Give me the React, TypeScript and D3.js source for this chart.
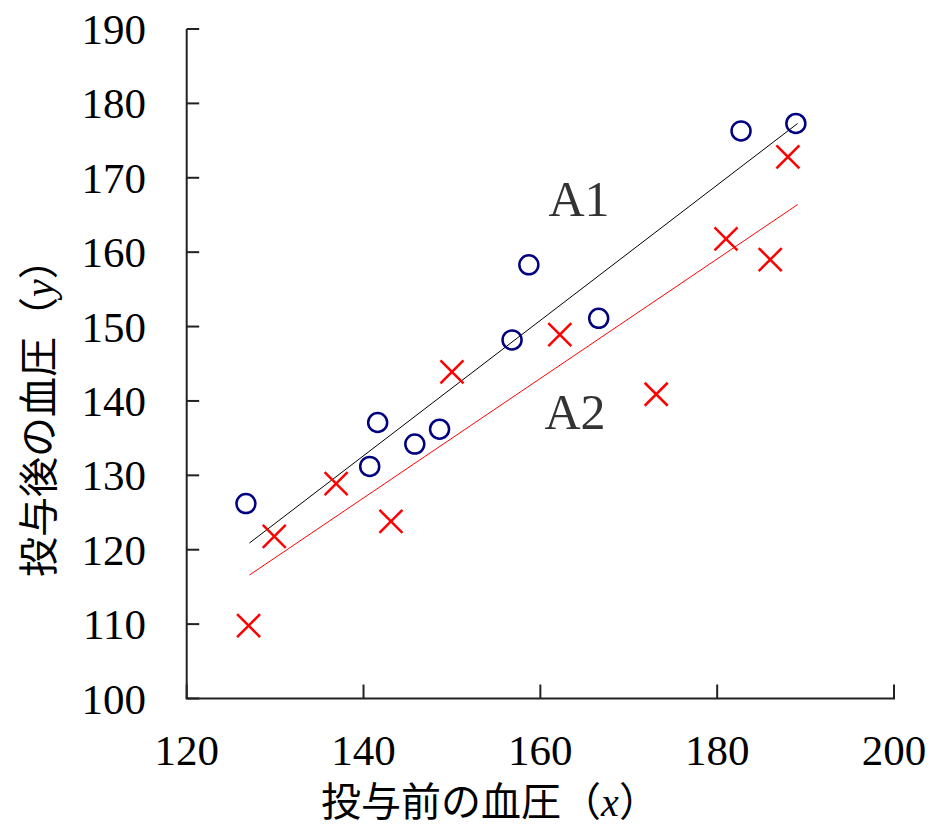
import React from "react";
import * as d3 from "d3";

const xTicks = [120, 140, 160, 180, 200];
const yTicks = [100, 110, 120, 130, 140, 150, 160, 170, 180, 190];

const a1X = [126.7, 140.7, 141.6, 145.8, 148.6, 156.8, 158.7, 166.6, 182.7, 188.9];
const a1Y = [126.2, 131.2, 137.1, 134.2, 136.2, 148.2, 158.3, 151.1, 176.3, 177.3];

const a2X = [127.0, 129.9, 136.9, 143.1, 150.0, 162.2, 173.1, 181.0, 186.0, 188.0];
const a2Y = [109.8, 121.8, 128.9, 123.8, 143.9, 148.9, 140.9, 161.8, 159.0, 172.8];

const fitA1X = [127.1, 189.1];
const fitA1Y = [120.9, 177.3];
const fitA2X = [127.1, 189.1];
const fitA2Y = [116.6, 166.4];

const W = 934;
const H = 828;

export default function App() {
  const x = d3.scaleLinear().domain([120, 200]).range([186.7, 894]);
  const y = d3.scaleLinear().domain([100, 190]).range([698.5, 29]);
  const line = d3.line<[number, number]>().x((d) => x(d[0])).y((d) => y(d[1]));
  const fit1: [number, number][] = fitA1X.map((v, i) => [v, fitA1Y[i]]);
  const fit2: [number, number][] = fitA2X.map((v, i) => [v, fitA2Y[i]]);
  const serif = "'Liberation Serif', 'DejaVu Serif', serif";
  const cjk = "'Noto Sans CJK JP', 'Noto Sans', sans-serif";
  const axisColor = "#222";
  const cs = 11.5;
  return (
    <svg width={W} height={H} style={{ position: "absolute", left: 0, top: 0, background: "#fff" }}>
      <rect x={0} y={0} width={W} height={H} fill="#fff" />
      {/* axes */}
      <line x1={x(120)} x2={x(120)} y1={y(190)} y2={y(100)} stroke={axisColor} strokeWidth={2} />
      <line x1={x(120) - 1} x2={x(200) + 1} y1={y(100)} y2={y(100)} stroke={axisColor} strokeWidth={2} />
      {yTicks.map((t) => (
        <g key={"yt" + t}>
          <line x1={x(120)} x2={x(120) + 12.5} y1={y(t)} y2={y(t)} stroke={axisColor} strokeWidth={2} />
          <text x={146} y={y(t)} dy="0.35em" textAnchor="end" fontFamily={serif} fontSize={43} fill="#000">
            {t}
          </text>
        </g>
      ))}
      {xTicks.map((t) => (
        <g key={"xt" + t}>
          <line x1={x(t)} x2={x(t)} y1={y(100)} y2={y(100) - 14} stroke={axisColor} strokeWidth={2} />
          <text x={x(t)} y={765} textAnchor="middle" fontFamily={serif} fontSize={43} fill="#000">
            {t}
          </text>
        </g>
      ))}
      {/* fit lines */}
      <path d={line(fit1) || ""} stroke="#000" strokeWidth={1} fill="none" />
      <path d={line(fit2) || ""} stroke="#ff0000" strokeWidth={1} fill="none" />
      {/* circles */}
      {a1X.map((v, i) => (
        <circle key={"c" + i} cx={x(v)} cy={y(a1Y[i])} r={9.5} fill="none" stroke="#000080" strokeWidth={2.5} />
      ))}
      {/* crosses */}
      {a2X.map((v, i) => {
        const cx = x(v);
        const cy = y(a2Y[i]);
        return (
          <g key={"x" + i} stroke="#ff0000" strokeWidth={2.5}>
            <line x1={cx - cs} y1={cy - cs} x2={cx + cs} y2={cy + cs} />
            <line x1={cx - cs} y1={cy + cs} x2={cx + cs} y2={cy - cs} />
          </g>
        );
      })}
      {/* labels */}
      <text x={579} y={216} textAnchor="middle" fontFamily={serif} fontSize={50} fill="#333">A1</text>
      <text x={575} y={429} textAnchor="middle" fontFamily={serif} fontSize={50} fill="#333">A2</text>
      {/* axis titles */}
      <text x={490} y={816} textAnchor="middle" fontFamily={cjk} fontSize={40} fill="#000">
        投与前の血圧（<tspan fontFamily={serif} fontStyle="italic" fontSize={40}>x</tspan>）
      </text>
      <text
        transform={`translate(53, 408) rotate(-90)`}
        textAnchor="middle"
        fontFamily={cjk}
        fontSize={40}
        fill="#000"
      >
        投与後の血圧（<tspan fontFamily={serif} fontStyle="italic" fontSize={40}>y</tspan>）
      </text>
    </svg>
  );
}
